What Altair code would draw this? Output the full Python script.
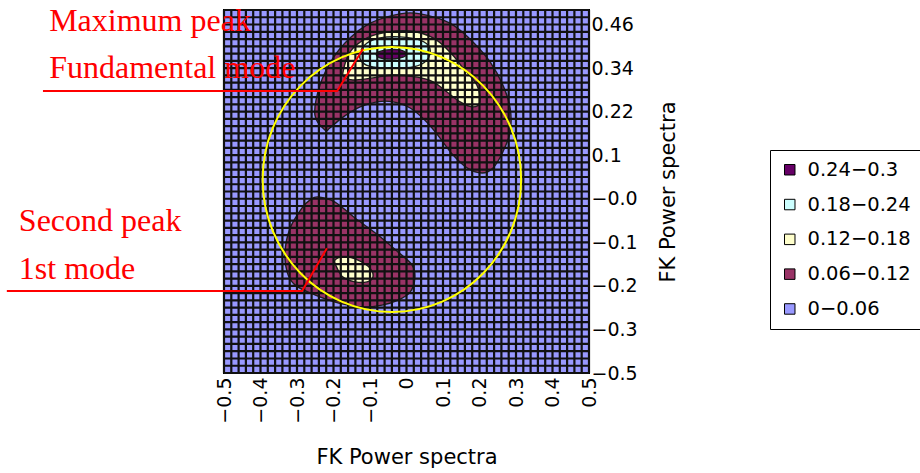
import altair as alt
import pandas as pd

# ---- contour classes (key order, top to bottom) and fills ----
level_labels = ["0.24−0.3", "0.18−0.24", "0.12−0.18", "0.06−0.12", "0−0.06"]
level_colors = ["#660066", "#CCFFFF", "#FFFFCC", "#993366", "#9999FF"]

# ---- contour outlines in wavenumber units (kx, ky) ----
# upper peak (fundamental mode)
top_006_x = [-0.223, -0.251, -0.237, -0.201, -0.155, -0.108, -0.053, 0.010, 0.073, 0.127,
             0.182, 0.229, 0.264, 0.284, 0.284, 0.264, 0.237, 0.207, 0.166, 0.127,
             0.092, 0.056, 0.010, -0.037, -0.081, -0.127, -0.174, -0.210]
top_006_y = [0.169, 0.211, 0.293, 0.368, 0.423, 0.459, 0.481, 0.492, 0.481, 0.459,
             0.412, 0.357, 0.293, 0.230, 0.164, 0.109, 0.065, 0.051, 0.065, 0.101,
             0.147, 0.191, 0.230, 0.247, 0.247, 0.233, 0.205, 0.175]
top_012_x = [-0.174, -0.155, -0.108, -0.053, 0.010, 0.073, 0.119, 0.155, 0.193, 0.201,
             0.182, 0.147, 0.111, 0.073, 0.029, -0.037, -0.092, -0.147, -0.169]
top_012_y = [0.329, 0.384, 0.423, 0.439, 0.442, 0.423, 0.384, 0.340, 0.293, 0.247,
             0.233, 0.247, 0.274, 0.302, 0.315, 0.321, 0.313, 0.307, 0.315]
top_018_x = [-0.127, -0.108, -0.073, -0.018, 0.037, 0.064, 0.056, 0.018, -0.037, -0.092, -0.122]
top_018_y = [0.382, 0.409, 0.423, 0.426, 0.417, 0.395, 0.362, 0.343, 0.340, 0.343, 0.357]
top_024_x = [-0.081, -0.053, -0.018, 0.001, -0.018, -0.053, -0.078]
top_024_y = [0.382, 0.390, 0.390, 0.379, 0.368, 0.365, 0.371]

# lower peak (1st mode)
bot_006_x = [-0.242, -0.196, -0.141, -0.078, -0.023, 0.015, 0.023, 0.010, -0.023, -0.067,
             -0.122, -0.188, -0.251, -0.305, -0.327, -0.333, -0.319, -0.286, -0.264]
bot_006_y = [-0.015, -0.029, -0.073, -0.120, -0.167, -0.202, -0.238, -0.277, -0.299, -0.313,
             -0.318, -0.307, -0.285, -0.258, -0.222, -0.167, -0.101, -0.045, -0.023]
bot_012_x = [-0.196, -0.169, -0.133, -0.100, -0.092, -0.108, -0.141, -0.174, -0.190]
bot_012_y = [-0.189, -0.180, -0.189, -0.211, -0.236, -0.249, -0.249, -0.236, -0.211]

contours = [
    ("top_006", "0.06−0.12", top_006_x, top_006_y),
    ("bot_006", "0.06−0.12", bot_006_x, bot_006_y),
    ("top_012", "0.12−0.18", top_012_x, top_012_y),
    ("bot_012", "0.12−0.18", bot_012_x, bot_012_y),
    ("top_018", "0.18−0.24", top_018_x, top_018_y),
    ("top_024", "0.24−0.3", top_024_x, top_024_y),
]

# ---- reference circle ----
circle_center_x = [-0.040]
circle_center_y = [0.033]

# ---- annotations ----
note_text = ["Maximum peak", "Fundamental mode", "Second peak", "1st mode"]
note_x = [-0.979, -0.979, -1.062, -1.062]
note_y = [0.442, 0.313, -0.109, -0.241]
leader_top_x = [-0.996, -0.190, -0.119]
leader_top_y = [0.277, 0.277, 0.393]
leader_bot_x = [-1.095, -0.286, -0.218]
leader_bot_y = [-0.274, -0.274, -0.156]

# ---- axes ----
x_tick_values = [-0.5, -0.4, -0.3, -0.2, -0.1, 0.0, 0.1, 0.2, 0.3, 0.4, 0.5]
x_tick_labels = ["−0.5", "−0.4", "−0.3", "−0.2", "−0.1", "0", "0.1", "0.2", "0.3", "0.4", "0.5"]
y_tick_values = [-0.5, -0.38, -0.26, -0.14, -0.02, 0.1, 0.22, 0.34, 0.46]
y_tick_labels = ["−0.5", "−0.3", "−0.2", "−0.1", "−0.0", "0.1", "0.22", "0.34", "0.46"]

# FK mesh (51 x 51 points, step 0.02)
mesh = [round(-0.5 + 0.02 * k, 2) for k in range(51)]


def label_expr(values, labels):
    parts = [f"abs(datum.value - ({v})) < 1e-6 ? '{t}' : " for v, t in zip(values, labels)]
    return "".join(parts) + "''"


FONT = "DejaVu Sans"
x_scale = alt.Scale(domain=[-0.5, 0.5], nice=False, zero=False)
y_scale = alt.Scale(domain=[-0.5, 0.5], nice=False, zero=False)

x_axis = alt.Axis(values=x_tick_values, labelExpr=label_expr(x_tick_values, x_tick_labels),
                  labelAngle=270, ticks=False, domain=False, grid=False, labelPadding=4,
                  labelFont=FONT, labelFontSize=19, labelColor="black",
                  title="FK Power spectra", titleFont=FONT, titleFontSize=21,
                  titleFontWeight="normal", titleColor="black", titlePadding=23)
y_axis = alt.Axis(orient="right", values=y_tick_values,
                  labelExpr=label_expr(y_tick_values, y_tick_labels),
                  ticks=False, domain=False, grid=False, labelPadding=2,
                  labelFont=FONT, labelFontSize=19, labelColor="black",
                  title="FK Power spectra", titleFont=FONT, titleFontSize=21,
                  titleFontWeight="normal", titleColor="black", titleAngle=270,
                  titleBaseline="top", titlePadding=20)

fill_scale = alt.Scale(domain=level_labels, range=level_colors)
key = alt.Legend(title=None, orient="none", legendX=546, legendY=140,
                 symbolType="square", symbolSize=110, symbolStrokeColor="black",
                 symbolStrokeWidth=1, labelFont=FONT, labelFontSize=19.5,
                 labelColor="black", strokeColor="black", fillColor="white",
                 padding=10, rowPadding=13.8, labelOffset=8)

layers = []
for name, level, xs, ys in contours:
    df = pd.DataFrame({"kx": xs, "ky": ys, "i": range(len(xs))})
    df["level"] = level
    layers.append(
        alt.Chart(df).mark_line(interpolate="cardinal-closed", stroke="#1e1e1e",
                                strokeWidth=1.4)
        .encode(x=alt.X("kx:Q", scale=x_scale, axis=x_axis),
                y=alt.Y("ky:Q", scale=y_scale, axis=y_axis),
                order="i:Q",
                fill=alt.Fill("level:N", scale=fill_scale, legend=key))
    )

# mesh lines drawn over the contour fills
mesh_v = alt.Chart(pd.DataFrame({"kx": mesh})).mark_rule(color="#111111", strokeWidth=2.2).encode(
    x=alt.X("kx:Q", scale=x_scale, axis=x_axis))
mesh_h = alt.Chart(pd.DataFrame({"ky": mesh})).mark_rule(color="#111111", strokeWidth=2.2).encode(
    y=alt.Y("ky:Q", scale=y_scale, axis=y_axis))

ring = alt.Chart(pd.DataFrame({"kx": circle_center_x, "ky": circle_center_y})).mark_point(
    shape="M -1 0 A 1 1.025 0 1 1 1 0 A 1 1.025 0 1 1 -1 0 Z",
    size=258.5 ** 2, filled=False, stroke="#FFFF00", strokeWidth=2, opacity=1
).encode(x=alt.X("kx:Q", scale=x_scale, axis=x_axis), y=alt.Y("ky:Q", scale=y_scale, axis=y_axis))

leaders = []
for xs, ys in [(leader_top_x, leader_top_y), (leader_bot_x, leader_bot_y)]:
    df = pd.DataFrame({"kx": xs, "ky": ys, "i": range(len(xs))})
    leaders.append(
        alt.Chart(df).mark_line(color="#FF0000", strokeWidth=2).encode(
            x=alt.X("kx:Q", scale=x_scale, axis=x_axis),
            y=alt.Y("ky:Q", scale=y_scale, axis=y_axis),
            order="i:Q")
    )

notes = alt.Chart(pd.DataFrame({"kx": note_x, "ky": note_y, "t": note_text})).mark_text(
    align="left", baseline="alphabetic", font="Liberation Serif", fontSize=32, color="#FF0000"
).encode(x=alt.X("kx:Q", scale=x_scale, axis=x_axis),
         y=alt.Y("ky:Q", scale=y_scale, axis=y_axis), text="t:N")

chart = alt.layer(*layers, mesh_v, mesh_h, ring, *leaders, notes).properties(
    width=365, height=363,
    autosize=alt.AutoSizeParams(type="none"),
    padding={"left": 224, "top": 10, "right": 331, "bottom": 100},
    background="white",
).configure_view(fill="#9999FF", stroke="black", strokeWidth=2)

chart.save("out.html", embed_options={"renderer": "svg", "actions": False})
